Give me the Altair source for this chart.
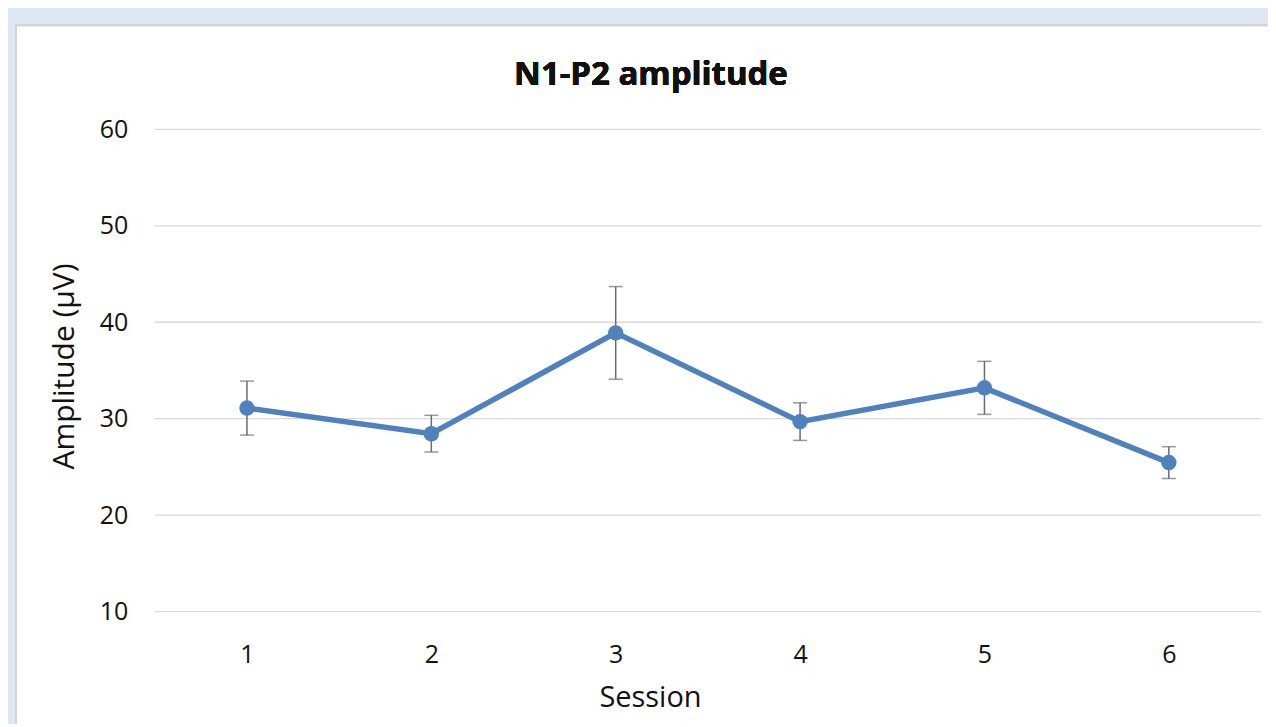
import altair as alt
import pandas as pd

sessions = ["1", "2", "3", "4", "5", "6"]
amplitude = [31.1, 28.45, 38.9, 29.7, 33.2, 25.45]
error = [2.8, 1.9, 4.8, 1.95, 2.75, 1.65]
y_ticks = [10, 20, 30, 40, 50, 60]
chart_title = "N1-P2 amplitude"

df = pd.DataFrame({
    "Session": sessions,
    "Amplitude": amplitude,
    "lo": [a - e for a, e in zip(amplitude, error)],
    "hi": [a + e for a, e in zip(amplitude, error)],
})
grid_df = pd.DataFrame({"tick": y_ticks})

FONT = "Open Sans"
W, H = 1108, 483
LINE = "#4f81bd"
TXT = "#111111"
ERR = "#6b6b6b"

y_scale = alt.Scale(domain=[10, 60], nice=False, zero=False)
x_scale = alt.Scale(type="point", padding=0.5)

x_enc = alt.X("Session:O", sort=sessions, scale=x_scale,
              axis=alt.Axis(title="Session", labelAngle=0, ticks=False, domain=False,
                            grid=False, labelPadding=31, labelFontSize=25, zindex=1,
                            labelColor=TXT, labelFont=FONT,
                            titleFont=FONT, titleFontSize=29, titleFontWeight="normal",
                            titleColor=TXT, titleX=496, titleY=86,
                            titleBaseline="middle", titleAnchor="start", titleAlign="center"))
y_enc = alt.Y("Amplitude:Q", scale=y_scale,
              axis=alt.Axis(title="Amplitude (µV)", values=y_ticks,
                            ticks=False, domain=False, grid=False, zindex=1,
                            labelPadding=27, labelFontSize=25,
                            labelColor=TXT, labelFont=FONT,
                            titleFont=FONT, titleFontSize=30, titleFontWeight="normal",
                            titleColor=TXT, titleX=-90, titleY=237,
                            titleBaseline="middle", titleAnchor="start", titleAlign="center"))

panel = alt.Chart(df).mark_rect(fill="white", stroke="#d4d4d4", strokeWidth=2).encode(
    x=alt.value(-139), x2=alt.value(W + 60), y=alt.value(-104), y2=alt.value(H + 200)
)

title_text = alt.Chart(df).mark_text(
    font=FONT, fontSize=33, fontWeight="bold", color="#111111",
    align="center", baseline="alphabetic"
).encode(x=alt.value(497), y=alt.value(-44), text=alt.value(chart_title))

grid = alt.Chart(grid_df).mark_rule(color="#d9d9d9", strokeWidth=1.3).encode(
    y=alt.Y("tick:Q", scale=y_scale), x=alt.value(0), x2=alt.value(W)
)

base = alt.Chart(df)

line = base.mark_line(color=LINE, strokeWidth=5.5).encode(x=x_enc, y=y_enc)

rules = base.mark_rule(color=ERR, strokeWidth=1.5).encode(
    x="Session:O", y=alt.Y("lo:Q", scale=y_scale), y2="hi:Q"
)
cap_lo = base.mark_tick(color=ERR, thickness=1.5, size=14).encode(
    x="Session:O", y=alt.Y("lo:Q", scale=y_scale)
)
cap_hi = base.mark_tick(color=ERR, thickness=1.5, size=14).encode(
    x="Session:O", y=alt.Y("hi:Q", scale=y_scale)
)
points = base.mark_circle(opacity=1, color=LINE, size=240).encode(
    x="Session:O", y=alt.Y("Amplitude:Q", scale=y_scale)
)

chart = alt.layer(panel, title_text, grid, line, rules, cap_lo, cap_hi, points).properties(
    width=W, height=H,
    background="#dde8f4",
    autosize=alt.AutoSizeParams(type="none"),
    padding={"left": 147, "top": 121, "right": 7, "bottom": 112},
).configure_view(stroke=None)

chart.save("out.html", embed_options={"renderer": "svg", "actions": False})
